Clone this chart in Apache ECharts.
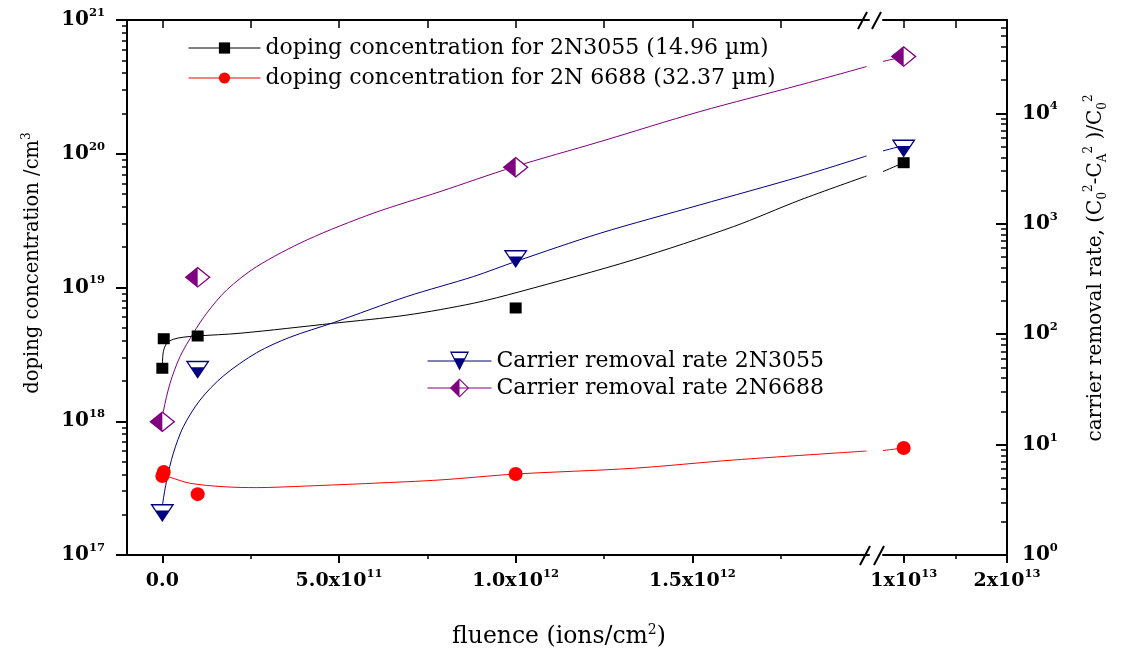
<!DOCTYPE html>
<html>
<head>
<meta charset="utf-8">
<script src="https://cdn.jsdelivr.net/npm/echarts@6/dist/echarts.min.js"></script>
<style>html,body{margin:0;padding:0;background:#fff}#c{width:1121px;height:654px}</style>
</head>
<body>
<div id="c"></div>
<script>
const FF = 'DejaVu Serif';

// ---------- series names ----------
const N1 = 'doping concentration for 2N3055 (14.96 µm)';
const N2 = 'doping concentration for 2N 6688 (32.37 µm)';
const N3 = 'Carrier removal rate 2N3055';
const N4 = 'Carrier removal rate 2N6688';

// ---------- measured points (fluence in ions/cm^2) ----------
const fluenceDoping = [0, 4e9, 1e11, 1e12, 1e13];
const doping3055 = [2.49e18, 4.14e18, 4.34e18, 7.03e18, 8.57e19];
const doping6688 = [3.90e17, 4.18e17, 2.85e17, 4.03e17, 6.31e17];
const fluenceRate = [0, 1e11, 1e12, 1e13];
const rate3055 = [2.56, 50.6, 509, 5110];
const rate6688 = [16.1, 327, 3250, 32650];

// ---------- fitted curves ----------
const fitDop3055X = [0, 2.8e9, 1.25e10, 3.1e10, 5.9e10, 9.7e10, 2.2e11, 4.84e11, 6.92e11, 8.8e11, 1.012e12, 1.333e12, 1.616e12, 1.805e12, 1.993e12, 8.0e12, 1e13];
const fitDop3055Y = [2.50e18, 3.31e18, 3.83e18, 4.10e18, 4.25e18, 4.34e18, 4.55e18, 5.40e18, 6.22e18, 7.62e18, 9.31e18, 1.61e19, 2.85e19, 4.51e19, 6.82e19, 7.36e19, 8.57e19];
const fitDop6688X = [0, 2.18e10, 7.84e10, 1.726e11, 2.67e11, 4.09e11, 5.97e11, 7.86e11, 1e12, 1.333e12, 1.616e12, 1.993e12, 8e12, 1e13];
const fitDop6688Y = [3.96e17, 3.81e17, 3.44e17, 3.24e17, 3.19e17, 3.28e17, 3.44e17, 3.64e17, 4.03e17, 4.45e17, 5.13e17, 5.99e17, 6.04e17, 6.31e17];
const fitRate3055X = [0, 1.1e9, 1.25e10, 3.11e10, 5.94e10, 1.067e11, 1.726e11, 2.67e11, 3.61e11, 4.84e11, 6.92e11, 8.8e11, 1e12, 1.239e12, 1.521e12, 1.805e12, 1.993e12, 8e12, 1e13];
const fitRate3055Y = [2.56, 2.94, 4.78, 8.34, 14.5, 25.3, 41.8, 68.0, 93.7, 127, 219, 332, 455, 820, 1480, 2670, 4110, 4570, 5110];
const fitRate6688X = [0, 2.8e9, 2.18e10, 5.0e10, 8.77e10, 1.256e11, 1.82e11, 2.67e11, 4.09e11, 5.97e11, 7.86e11, 9.92e11, 1.239e12, 1.521e12, 1.805e12, 1.993e12, 8e12, 1e13];
const fitRate6688Y = [16.1, 19.9, 35.9, 62.5, 102, 155, 251, 409, 713, 1245, 1954, 3250, 5540, 10360, 18080, 26500, 29500, 32650];

// ---------- ticks ----------
const xTicksA = [0, 5e11, 1e12, 1.5e12];
const xTickBaseA = ['0.0', '5.0x10', '1.0x10', '1.5x10'];
const xTickSupA = ['', '11', '12', '12'];
const xMinorA = [2.5e11, 7.5e11, 1.25e12, 1.75e12];
const xTicksB = [1e13, 2e13];
const xTickBaseB = ['1x10', '2x10'];
const xTickSupB = ['13', '13'];
const xMinorB = [1.5e13];
const leftTicks = [1e17, 1e18, 1e19, 1e20, 1e21];
const leftTickExp = ['17', '18', '19', '20', '21'];
const rightTicks = [1, 10, 100, 1000, 10000];
const rightTickExp = ['0', '1', '2', '3', '4'];

const RANGE_A = [-1e11, 2e12];
const RANGE_B = [8e12, 2e13];
const LEFT_RANGE = [1e17, 1.000001e21];
const RIGHT_RANGE = [1, 7e4];

function minorLog(lo, hi) {
  const out = [];
  for (let e = Math.floor(Math.log10(lo)); e <= Math.ceil(Math.log10(hi)); e++) {
    for (let m = 2; m <= 9; m++) { const v = m * Math.pow(10, e); if (v > lo && v < hi) out.push(v); }
  }
  return out;
}
const leftMinor = minorLog(LEFT_RANGE[0], LEFT_RANGE[1]);
const rightMinor = minorLog(RIGHT_RANGE[0], RIGHT_RANGE[1]);

function pick(xs, ys, r) {
  const o = [];
  for (let i = 0; i < xs.length; i++) if (xs[i] >= r[0] && xs[i] <= r[1]) o.push([xs[i], ys[i]]);
  return o;
}
function idxOf(arr, v, log) {
  let best = 0, bd = Infinity;
  arr.forEach((t, i) => { const d = log ? Math.abs(Math.log10(t) - Math.log10(v)) : Math.abs(t - v); if (d < bd) { bd = d; best = i; } });
  return best;
}

const labRich = {
  b: { fontFamily: FF, fontWeight: 'bold', fontSize: 19, lineHeight: 26, color: '#000', verticalAlign: 'middle' },
  s: { fontFamily: FF, fontWeight: 'bold', fontSize: 11.5, lineHeight: 12, color: '#000', verticalAlign: 'top' }
};
const yRich = {
  b: { fontFamily: FF, fontWeight: 'bold', fontSize: 20, lineHeight: 26, color: '#000', verticalAlign: 'middle' },
  s: { fontFamily: FF, fontWeight: 'bold', fontSize: 11.5, lineHeight: 12, color: '#000', verticalAlign: 'top' }
};
const AX = { color: '#000', width: 2 };

function xAxisMain(grid, range, ticks, base, sup, extra) {
  return Object.assign({
    type: 'value', gridIndex: grid, position: 'bottom', min: range[0], max: range[1],
    axisLine: { show: true, onZero: false, lineStyle: AX },
    axisTick: { show: true, customValues: ticks, length: 8, inside: false, lineStyle: { color: '#000', width: 2 } },
    axisLabel: {
      show: true, customValues: ticks, margin: 13, rich: labRich,
      formatter: v => { const i = idxOf(ticks, v, false); return '{b|' + base[i] + '}' + (sup[i] ? '{s|' + sup[i] + '}' : ''); }
    },
    splitLine: { show: false }, minorTick: { show: false }
  }, extra || {});
}
function xAxisTicks(grid, range, pos, ticks, len, inside, line) {
  return {
    type: 'value', gridIndex: grid, position: pos, min: range[0], max: range[1],
    axisLine: { show: !!line, onZero: false, lineStyle: AX },
    axisTick: { show: true, customValues: ticks, length: len, inside: inside, lineStyle: { color: '#000', width: 1.5 } },
    axisLabel: { show: false }, splitLine: { show: false }
  };
}
function yLog(grid, range, pos, show, ticks, len, inside, line, labelCfg, extra) {
  return Object.assign({
    type: 'log', logBase: 10, gridIndex: grid, position: pos, min: range[0], max: range[1], show: show,
    axisLine: { show: !!line, onZero: false, lineStyle: AX },
    axisTick: { show: !!ticks, customValues: ticks || [], length: len, inside: inside, lineStyle: { color: '#000', width: ticks && len > 8 ? 2 : 1.5 } },
    axisLabel: labelCfg || { show: false },
    splitLine: { show: false }, minorTick: { show: false }
  }, extra || {});
}

const TRI = 'path://M0 0L24 0L12 18Z M2.56 1.5L5.9 6.5L18.1 6.5L21.44 1.5Z';
const TRI_BG = 'path://M0 0L24 0L12 18Z';
const DIA = 'path://M13 0L26 10.5L13 21L0 10.5Z M13 1.67L13 19.33L23.93 10.5Z';
const DIA_BG = 'path://M13 0L26 10.5L13 21L0 10.5Z';

function markers(name, data, xi, yi, symbol, size, color, offset, z) {
  return {
    name: name, type: 'line', xAxisIndex: xi, yAxisIndex: yi, data: data,
    symbol: symbol, symbolSize: size, symbolOffset: offset || [0, 0], symbolKeepAspect: false,
    showSymbol: true, showAllSymbol: true, itemStyle: { color: color, borderWidth: 0 },
    lineStyle: { opacity: 0, width: 1 }, z: z, silent: true, emphasis: { disabled: true }, clip: false, animation: false
  };
}
function curve(name, data, xi, yi, color) {
  return {
    name: name, type: 'line', xAxisIndex: xi, yAxisIndex: yi, data: data, symbol: 'none',
    smooth: 0.3, lineStyle: { color: color, width: 1 }, itemStyle: { color: color },
    z: 2, silent: true, emphasis: { disabled: true }, clip: true, animation: false
  };
}

const series = [];
// grid A: x0, left y0 (doping) / hidden y2 (rate); grid B: x3, hidden y5 (doping) / right y3 (rate)
[[RANGE_A, 0, 0, 2], [RANGE_B, 3, 5, 3]].forEach(([r, xi, yd, yr]) => {
  series.push(markers(N1, pick(fluenceDoping, doping3055, r), xi, yd, 'rect', [12, 11], '#000000', null, 5));
  series.push(markers(N2, pick(fluenceDoping, doping6688, r), xi, yd, 'circle', 14, '#ff0000', null, 5));
  series.push(markers(N3, pick(fluenceRate, rate3055, r), xi, yr, TRI, [24, 18], '#000080', [0, 3], 5));
  series.push(markers(N4, pick(fluenceRate, rate6688, r), xi, yr, DIA, [26, 21], '#800080', null, 5));
  series.push(markers('bg3', pick(fluenceRate, rate3055, r), xi, yr, TRI_BG, [24, 18], '#ffffff', [0, 3], 4));
  series.push(markers('bg4', pick(fluenceRate, rate6688, r), xi, yr, DIA_BG, [26, 21], '#ffffff', null, 4));
  series.push(curve(N1, pick(fitDop3055X, fitDop3055Y, r), xi, yd, '#000000'));
  series.push(curve(N2, pick(fitDop6688X, fitDop6688Y, r), xi, yd, '#ff0000'));
  series.push(curve(N3, pick(fitRate3055X, fitRate3055Y, r), xi, yr, '#000080'));
  series.push(curve(N4, pick(fitRate6688X, fitRate6688Y, r), xi, yr, '#800080'));
});

const option = {
  animation: false,
  backgroundColor: '#fff',
  grid: [
    { left: 127, top: 20, width: 742, height: 535, containLabel: false, outerBoundsMode: 'none' },
    { left: 883, top: 20, width: 124, height: 535, containLabel: false, outerBoundsMode: 'none' }
  ],
  xAxis: [
    xAxisMain(0, RANGE_A, xTicksA, xTickBaseA, xTickSupA, {
      name: '{t|fluence (ions/cm}{s|2}{t|)}', nameLocation: 'middle', nameGap: 68,
      nameTextStyle: {
        padding: [0, 0, 0, 122],
        rich: {
          t: { fontFamily: FF, fontSize: 23.5, lineHeight: 28, color: '#000', verticalAlign: 'middle' },
          s: { fontFamily: FF, fontSize: 14, lineHeight: 14, color: '#000', verticalAlign: 'top' }
        }
      }
    }),
    xAxisTicks(0, RANGE_A, 'bottom', xMinorA, 4, false, false),
    xAxisTicks(0, RANGE_A, 'top', xTicksA.concat(xMinorA), 8, true, true),
    xAxisMain(1, RANGE_B, xTicksB, xTickBaseB, xTickSupB),
    xAxisTicks(1, RANGE_B, 'bottom', xMinorB, 4, false, false),
    xAxisTicks(1, RANGE_B, 'top', xTicksB.concat(xMinorB), 8, true, true)
  ],
  yAxis: [
    yLog(0, LEFT_RANGE, 'left', true, leftTicks, 11, false, true, {
      show: true, customValues: leftTicks, margin: 22, rich: yRich,
      formatter: v => '{b|10}{s|' + leftTickExp[idxOf(leftTicks, v, true)] + '}'
    }, {
      name: '{t|doping concentration /cm}{s|3}', nameLocation: 'middle', nameRotate: 90, nameGap: 82,
      nameTextStyle: {
        padding: [0, 0, 0, 49],
        rich: {
          t: { fontFamily: FF, fontSize: 19.5, lineHeight: 24, color: '#000', verticalAlign: 'middle' },
          s: { fontFamily: FF, fontSize: 12, lineHeight: 12, color: '#000', verticalAlign: 'top' }
        }
      }
    }),
    yLog(0, LEFT_RANGE, 'left', true, leftMinor, 5, false, false),
    yLog(0, RIGHT_RANGE, 'right', false),
    yLog(1, RIGHT_RANGE, 'right', true, rightTicks, 11, true, true, {
      show: true, customValues: rightTicks, margin: 15, rich: yRich,
      formatter: v => '{b|10}{s|' + rightTickExp[idxOf(rightTicks, v, true)] + '}'
    }, {
      name: '{t|carrier removal rate, (C}{d|0}{s|2}{t|-C}{d|A}{s|2}{t| )/C}{d|0}{s|2}',
      nameLocation: 'middle', nameRotate: 90, nameGap: 76,
      nameTextStyle: {
        padding: [0, 0, 0, 39],
        rich: {
          t: { fontFamily: FF, fontSize: 20, lineHeight: 26, color: '#000', verticalAlign: 'middle' },
          s: { fontFamily: FF, fontSize: 12, lineHeight: 12, color: '#000', verticalAlign: 'top' },
          d: { fontFamily: FF, fontSize: 12, lineHeight: 12, color: '#000', verticalAlign: 'bottom' }
        }
      }
    }),
    yLog(1, RIGHT_RANGE, 'right', true, rightMinor, 6, true, false),
    yLog(1, LEFT_RANGE, 'left', false)
  ],
  legend: [
    {
      left: 188, top: 34, orient: 'vertical', padding: 0, itemWidth: 72, itemHeight: 14, itemGap: 2,
      selectedMode: false,
      textStyle: { fontFamily: FF, fontSize: 22, color: '#000', lineHeight: 28 },
      data: [
        { name: N1, lineStyle: { color: '#000000', width: 1, opacity: 1 } },
        { name: N2, lineStyle: { color: '#ff0000', width: 1, opacity: 1 } }
      ]
    },
    {
      left: 427, top: 347.5, orient: 'vertical', padding: 0, itemWidth: 64, itemHeight: 24, itemGap: 0,
      selectedMode: false,
      textStyle: { fontFamily: FF, fontSize: 22, color: '#000', lineHeight: 27 },
      data: [
        { name: N3, lineStyle: { color: '#000080', width: 1, opacity: 1 } },
        { name: N4, lineStyle: { color: '#800080', width: 1, opacity: 1 } }
      ]
    }
  ],
  graphic: [
    { type: 'line', silent: true, shape: { x1: 858, y1: 29, x2: 867, y2: 12 }, style: { stroke: '#000', lineWidth: 2 } },
    { type: 'line', silent: true, shape: { x1: 872, y1: 29, x2: 881, y2: 12 }, style: { stroke: '#000', lineWidth: 2 } },
    { type: 'line', silent: true, shape: { x1: 860, y1: 565, x2: 870, y2: 546 }, style: { stroke: '#000', lineWidth: 2 } },
    { type: 'line', silent: true, shape: { x1: 874, y1: 565, x2: 884, y2: 546 }, style: { stroke: '#000', lineWidth: 2 } }
  ],
  series: series
};

const chart = echarts.init(document.getElementById('c'), null, { renderer: 'canvas' });
chart.setOption(option);
</script>
</body>
</html>
